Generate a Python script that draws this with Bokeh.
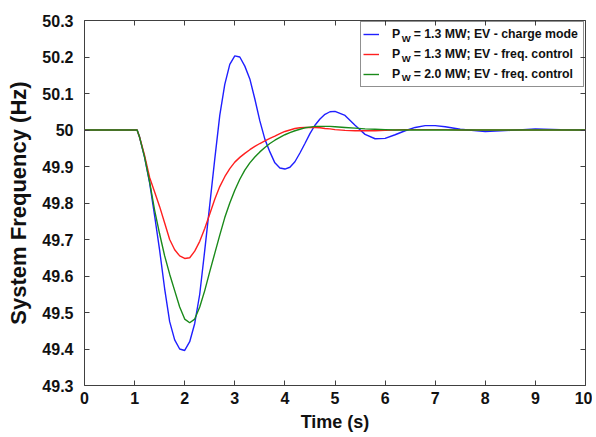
from bokeh.plotting import figure
from bokeh.models import (Range1d, FixedTicker, LinearAxis, Legend, LegendItem)
from bokeh.core.properties import value
from bokeh.embed import file_html
from bokeh.resources import INLINE

# ---- data ----
t = [0, 1.0, 1.05, 1.1, 1.2, 1.3, 1.4, 1.5, 1.6, 1.7, 1.8, 1.9, 2.0, 2.1, 2.2, 2.3, 2.4,
     2.5, 2.6, 2.7, 2.8, 2.9, 3.0, 3.1, 3.2, 3.3, 3.4, 3.5, 3.6, 3.7, 3.8, 3.9, 4.0, 4.1,
     4.2, 4.3, 4.4, 4.5, 4.6, 4.7, 4.8, 4.9, 5.0, 5.2, 5.4, 5.6, 5.8, 6.0, 6.2, 6.4, 6.6,
     6.8, 7.0, 7.2, 7.5, 8.0, 8.5, 9.0, 9.5, 10.0]

f_charge_13 = [50, 50, 50, 49.98, 49.925, 49.855, 49.765, 49.67, 49.565, 49.475, 49.425,
               49.40, 49.396, 49.42, 49.47, 49.55, 49.67, 49.795, 49.92, 50.04, 50.125,
               50.18, 50.203, 50.20, 50.175, 50.14, 50.085, 50.025, 49.975, 49.94, 49.91,
               49.896, 49.893, 49.898, 49.913, 49.937, 49.963, 49.99, 50.013, 50.03, 50.043,
               50.05, 50.051, 50.04, 50.013, 49.988, 49.976, 49.977, 49.987, 49.998, 50.007,
               50.012, 50.012, 50.009, 50.002, 49.996, 49.999, 50.003, 50.001, 50.0]

f_freq_13 = [50, 50, 50, 49.98, 49.93, 49.87, 49.83, 49.79, 49.745, 49.70, 49.672, 49.655,
             49.648, 49.65, 49.668, 49.695, 49.73, 49.77, 49.81, 49.845, 49.872, 49.894,
             49.912, 49.925, 49.936, 49.946, 49.955, 49.963, 49.97, 49.977, 49.983, 49.99,
             49.996, 50.0, 50.004, 50.006, 50.007, 50.007, 50.007, 50.006, 50.004, 50.003,
             50.001, 49.999, 49.998, 49.998, 49.998, 49.999, 50.0, 50.001, 50.001, 50.001,
             50.001, 50.001, 50.0, 50.0, 50.0, 50.0, 50.0, 50.0]

f_freq_20 = [50, 50, 50, 49.98, 49.925, 49.858, 49.78, 49.715, 49.655, 49.605, 49.56, 49.515,
             49.482, 49.472, 49.482, 49.515, 49.56, 49.612, 49.662, 49.712, 49.76, 49.80,
             49.835, 49.865, 49.89, 49.91, 49.926, 49.94, 49.952, 49.963, 49.972, 49.98,
             49.987, 49.993, 49.998, 50.002, 50.006, 50.008, 50.01, 50.01, 50.01, 50.01,
             50.009, 50.007, 50.005, 50.003, 50.002, 50.001, 50.0, 50.0, 50.0, 50.0, 50.0,
             50.0, 50.0, 50.0, 50.0, 50.0, 50.0, 50.0]

series_labels = ["1.3 MW; EV - charge mode", "1.3 MW; EV - freq. control",
                 "2.0 MW; EV - freq. control"]
series_colors = ["#1f1fff", "#ff1f1f", "#1a8a1a"]

x_ticks = [0, 1, 2, 3, 4, 5, 6, 7, 8, 9, 10]
x_tick_labels = ["0", "1", "2", "3", "4", "5", "6", "7", "8", "9", "10"]
y_ticks = [49.3, 49.4, 49.5, 49.6, 49.7, 49.8, 49.9, 50.0, 50.1, 50.2, 50.3]
y_tick_labels = ["49.3", "49.4", "49.5", "49.6", "49.7", "49.8", "49.9", "50", "50.1",
                 "50.2", "50.3"]

# ---- layout ----
W, H = 592, 434
ML, MR, MT, MB = 84, 7, 20, 45
FW, FH = W - ML - MR, H - MT - MB
FONT = "Liberation Sans"

p = figure(width=W, height=H, output_backend="svg", toolbar_location=None,
           x_range=Range1d(0, 10), y_range=Range1d(49.3, 50.3),
           min_border_left=ML, min_border_right=MR, min_border_top=MT,
           min_border_bottom=MB, x_axis_location=None, y_axis_location=None)
p.grid.visible = False
p.outline_line_color = "#404040"
p.outline_line_width = 1
p.background_fill_color = "white"
p.border_fill_color = "white"


def style_axis(ax, labels_on):
    ax.axis_line_color = None
    ax.major_tick_in = 5
    ax.major_tick_out = 0
    ax.minor_tick_line_color = None
    ax.major_tick_line_color = "#404040"
    if not labels_on:
        ax.major_label_text_font_size = "0px"
        ax.major_label_text_color = None
    else:
        ax.major_label_text_font = FONT
        ax.major_label_text_font_style = "bold"
        ax.major_label_text_font_size = "16px"
        ax.major_label_text_color = "#111111"
        ax.axis_label_text_font = FONT
        ax.axis_label_text_font_style = "bold"
        ax.axis_label_text_color = "#111111"


xb = LinearAxis(ticker=FixedTicker(ticks=x_ticks),
                major_label_overrides=dict(zip(x_ticks, x_tick_labels)),
                axis_label="Time (s)")
style_axis(xb, True)
xb.axis_label_text_font_size = "18px"
xb.major_label_standoff = 6
xb.axis_label_standoff = 5
xt = LinearAxis(ticker=FixedTicker(ticks=x_ticks))
style_axis(xt, False)

yl = LinearAxis(ticker=FixedTicker(ticks=y_ticks),
                major_label_overrides=dict(zip(y_ticks, y_tick_labels)),
                axis_label="System Frequency (Hz)")
style_axis(yl, True)
yl.axis_label_text_font_size = "22px"
yl.major_label_standoff = 11
yl.axis_label_standoff = 8
yr = LinearAxis(ticker=FixedTicker(ticks=y_ticks))
style_axis(yr, False)

p.add_layout(xb, "below")
p.add_layout(yl, "left")
p.add_layout(xt, "above")
p.add_layout(yr, "right")

renderers = []
for ys, c in zip([f_charge_13, f_freq_13, f_freq_20], series_colors):
    r = p.line(t, ys, line_color=c, line_width=1.4)
    renderers.append(r)

PAD, GW, STANDOFF, LH = 2, 16, 13, 20
LEG_W = 222
LW = LEG_W - 2 * PAD - GW - STANDOFF
legend = Legend(
    items=[LegendItem(label="P    = " + s, renderers=[r]) for s, r in zip(series_labels, renderers)],
    location="top_right", margin=1, padding=PAD, spacing=0,
    glyph_width=GW, glyph_height=LH, label_height=LH, label_width=LW,
    label_standoff=STANDOFF, border_line_color="#222222", border_line_width=1,
    label_text_font=FONT, label_text_font_style="bold", label_text_font_size="12.3px",
    label_text_color="#111111", background_fill_alpha=0.0,
)
p.add_layout(legend, "center")

# subscript "W" after each "P" in the legend labels (positions derived from legend layout)
text_left_px = FW - 1 - LEG_W + PAD + GW + STANDOFF  # from frame left
sub_x_px = text_left_px + 8.3
px_per_x = FW / 10.0
px_per_y = FH / 1.0
sub_x, sub_y = [], []
for i in range(len(series_labels)):
    row_center_px = 1 + PAD + LH * (i + 0.5)  # from frame top
    sub_x.append(sub_x_px / px_per_x)
    sub_y.append(50.3 - (row_center_px + 5) / px_per_y)
sub_r = p.text(x=sub_x, y=sub_y, text=["W"] * len(sub_x), text_font=value(FONT),
               text_font_style="bold", text_font_size="9.5px", text_color="#111111",
               text_baseline="middle", text_align="left")
sub_r.level = "overlay"

open("out.html", "w").write(file_html(p, INLINE))
